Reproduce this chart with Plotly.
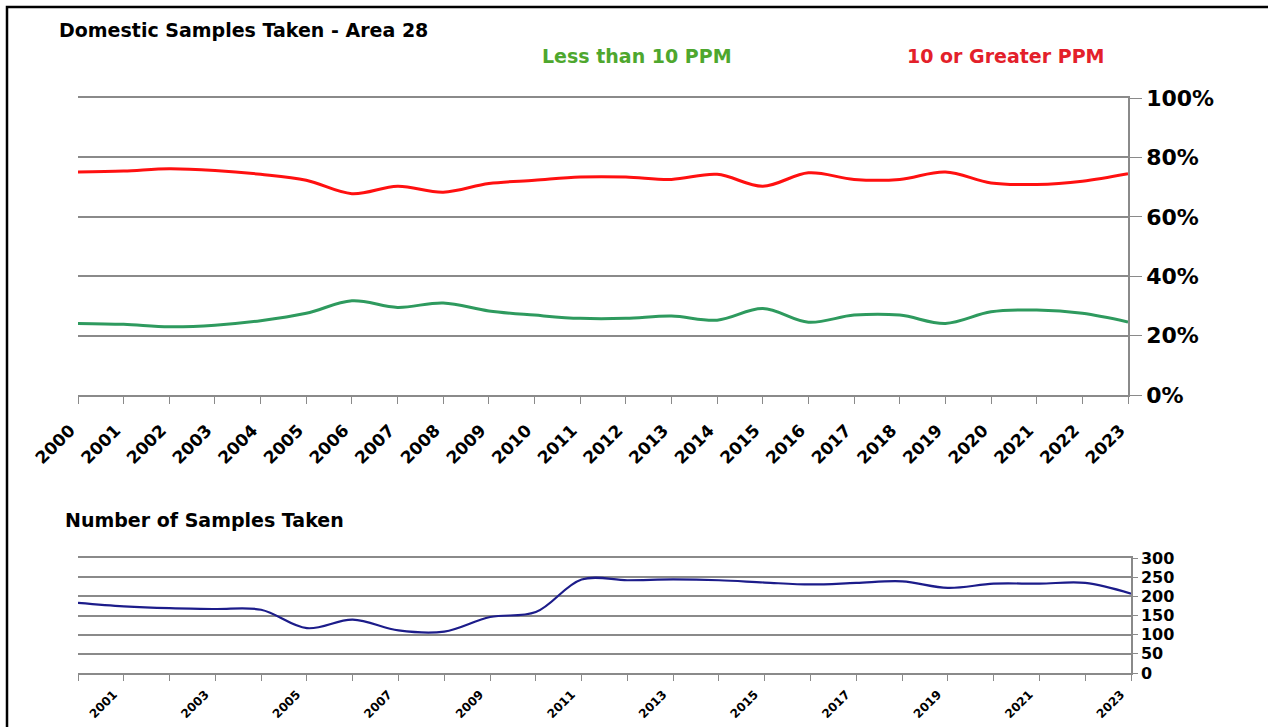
import plotly.graph_objects as go

years = list(range(2000, 2024))
greater_10 = [75.1, 75.4, 76.2, 75.6, 74.3, 72.3, 67.8, 70.3, 68.3, 71.2, 72.3, 73.4,
              73.4, 72.6, 74.3, 70.3, 74.8, 72.6, 72.6, 75.1, 71.4, 70.9, 72.0, 74.5]
less_10 = [24.1, 23.8, 23.0, 23.5, 25.0, 27.5, 31.7, 29.5, 31.0, 28.3, 26.9, 25.8,
           25.8, 26.6, 25.2, 29.1, 24.5, 26.9, 26.9, 24.1, 28.0, 28.6, 27.5, 24.6]
samples = [183, 174, 169, 167, 165, 117, 139, 111, 108, 146, 159, 244,
           242, 244, 242, 236, 231, 235, 239, 222, 233, 233, 235, 207]
pct_ticks = [0, 20, 40, 60, 80, 100]
pct_labels = ["0%", "20%", "40%", "60%", "80%", "100%"]
count_ticks = [0, 50, 100, 150, 200, 250, 300]
bottom_labels = [str(y) if y % 2 == 1 else "" for y in years]

W, H = 1268, 727
FONT = "DejaVu Sans"
GRID = "#8a8a8a"

fig = go.Figure()
fig.add_trace(go.Scatter(x=years, y=greater_10, mode="lines", line=dict(color="#ff1010", width=3, shape="spline"),
                         name="10 or Greater PPM", xaxis="x", yaxis="y"))
fig.add_trace(go.Scatter(x=years, y=less_10, mode="lines", line=dict(color="#2e9a5e", width=3, shape="spline"),
                         name="Less than 10 PPM", xaxis="x", yaxis="y"))
fig.add_trace(go.Scatter(x=years, y=samples, mode="lines", line=dict(color="#1c1c8a", width=2.2, shape="spline"),
                         name="Samples", xaxis="x2", yaxis="y2"))

xd = [78 / W, 1128 / W]
fig.update_layout(
    width=W, height=H, autosize=False,
    margin=dict(l=0, r=0, t=0, b=0, autoexpand=False),
    paper_bgcolor="white", plot_bgcolor="white",
    showlegend=False,
    font=dict(family=FONT, color="black"),
    xaxis=dict(domain=xd, anchor="y", range=[2000, 2023], tickmode="array", tickvals=years,
               ticktext=[str(y) for y in years], tickangle=-45, showgrid=False, automargin=False,
               showline=True, mirror=True, linecolor=GRID, linewidth=1.5, ticks="outside", ticklen=7,
               tickcolor=GRID, tickfont=dict(size=17, family=FONT, color="black", weight="bold"),
               ticklabelshift=-8, ticklabelstandoff=10, zeroline=False),
    yaxis=dict(domain=[1 - 395 / H, 1 - 98 / H], anchor="x", side="right", range=[0, 100],
               tickmode="array", tickvals=pct_ticks, ticktext=pct_labels, automargin=False,
               showgrid=True, gridcolor=GRID, gridwidth=1.5, showline=True, linecolor=GRID, linewidth=1.5,
               ticks="outside", ticklen=12, tickcolor=GRID,
               tickfont=dict(size=22, family=FONT, color="black", weight="bold"), zeroline=False),
    xaxis2=dict(domain=[78 / W, 1131 / W], anchor="y2", range=[2000, 2023], tickmode="array", tickvals=years,
                ticktext=bottom_labels, tickangle=-45, showgrid=False, automargin=False,
                showline=True, mirror=True, linecolor=GRID, linewidth=1.5, ticks="outside", ticklen=6,
                tickcolor=GRID, tickfont=dict(size=12, family=FONT, color="black", weight="bold"),
                ticklabelshift=-10, ticklabelstandoff=2, zeroline=False),
    yaxis2=dict(domain=[1 - 673 / H, 1 - 558 / H], anchor="x2", side="right", range=[0, 300],
                tickmode="array", tickvals=count_ticks, automargin=False,
                showgrid=True, gridcolor=GRID, gridwidth=1.5, showline=True, linecolor=GRID, linewidth=1.5,
                ticks="outside", ticklen=5, tickcolor=GRID,
                tickfont=dict(size=16, family=FONT, color="black", weight="bold"), zeroline=False),
    shapes=[dict(type="rect", xref="paper", yref="paper", x0=7 / W, x1=1.05, y0=-0.05, y1=1 - 7 / H,
                 line=dict(color="black", width=2.5), fillcolor="rgba(0,0,0,0)", layer="above")],
    annotations=[
        dict(text="Domestic Samples Taken - Area 28", x=57 / W, y=1 - 30 / H, xref="paper", yref="paper",
             xanchor="left", yanchor="middle", showarrow=False,
             font=dict(size=19, family=FONT, color="black", weight="bold")),
        dict(text="Less than 10 PPM", x=540 / W, y=1 - 56 / H, xref="paper", yref="paper",
             xanchor="left", yanchor="middle", showarrow=False,
             font=dict(size=19, family=FONT, color="#4ea72e", weight="bold")),
        dict(text="10 or Greater PPM", x=905 / W, y=1 - 56 / H, xref="paper", yref="paper",
             xanchor="left", yanchor="middle", showarrow=False,
             font=dict(size=19, family=FONT, color="#e3202a", weight="bold")),
        dict(text="Number of Samples Taken", x=63 / W, y=1 - 520 / H, xref="paper", yref="paper",
             xanchor="left", yanchor="middle", showarrow=False,
             font=dict(size=19, family=FONT, color="black", weight="bold")),
    ],
)

post = ("document.documentElement.style.margin='0';document.body.style.margin='0';"
        "document.documentElement.style.overflow='hidden';document.body.style.overflow='hidden';")
fig.write_html("out.html", config={"displayModeBar": False}, post_script=post)
